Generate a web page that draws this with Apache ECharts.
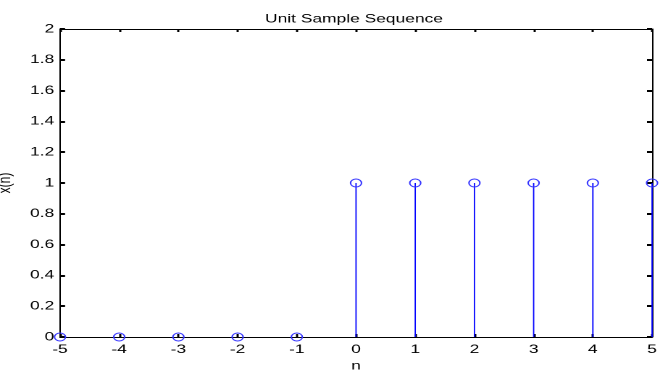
<!DOCTYPE html>
<html><head><meta charset="utf-8">
<script src="https://cdn.jsdelivr.net/npm/echarts@6/dist/echarts.min.js"></script>
<style>
html,body{margin:0;padding:0;background:#fff;overflow:hidden}
#wrap{width:668px;height:370px;overflow:hidden;position:relative}
#c{width:461px;height:370px;transform:scaleX(1.449);transform-origin:0 0}
</style>
</head><body><div id="wrap"><div id="c"></div></div>
<script>
const nValues = [-5, -4, -3, -2, -1, 0, 1, 2, 3, 4, 5];
const xValues = [0, 0, 0, 0, 0, 1, 1, 1, 1, 1, 1];
const titleText = 'Unit Sample Sequence';
const xName = 'n';
const yName = 'x(n)';

const pts = nValues.map((n, i) => [n, xValues[i]]);
const font = 'Liberation Sans, Arial, sans-serif';
function ax(len, w) {
  return {
    axisLine: { show: true, onZero: false, lineStyle: { color: '#000', width: 1 } },
    axisTick: { show: true, inside: true, length: len, lineStyle: { color: '#000', width: w } },
    splitLine: { show: false }
  };
}
const chart = echarts.init(document.getElementById('c'), null, { renderer: 'canvas', devicePixelRatio: 2 });
chart.setOption({
  backgroundColor: '#fff',
  animation: false,
  title: { text: titleText, left: 239.3, top: 8, textAlign: 'center',
    textStyle: { fontFamily: font, fontSize: 12, fontWeight: 'normal', color: '#000' } },
  grid: { left: 41.4, right: 11, top: 29, bottom: 33, outerBoundsMode: 'none', containLabel: false },
  xAxis: [
    Object.assign({ type: 'value', min: -5, max: 5, interval: 1, position: 'bottom',
      name: xName, nameLocation: 'middle', nameGap: 15,
      nameTextStyle: { fontFamily: font, fontSize: 12, color: '#000' },
      axisLabel: { fontFamily: font, fontSize: 12, color: '#000', margin: 6.5 } }, ax(3, 1.5)),
    Object.assign({ type: 'value', min: -5, max: 5, interval: 1, position: 'top',
      axisLabel: { show: false } }, ax(3, 1.5))
  ],
  yAxis: [
    Object.assign({ type: 'value', min: 0, max: 2, interval: 0.2, position: 'left',
      name: yName, nameLocation: 'middle', nameGap: 26, nameRotate: 90,
      nameTextStyle: { fontFamily: font, fontSize: 12, color: '#000' },
      axisLabel: { fontFamily: font, fontSize: 12, color: '#000', margin: 4,
        formatter: v => String(Math.round(v * 10) / 10) } }, ax(3.5, 2)),
    Object.assign({ type: 'value', min: 0, max: 2, interval: 0.2, position: 'right',
      axisLabel: { show: false } }, ax(3.5, 2))
  ],
  series: [{
    type: 'custom',
    xAxisIndex: 0, yAxisIndex: 0,
    data: pts,
    clip: false,
    z: 5,
    renderItem: function (params, api) {
      const base = api.coord([api.value(0), 0]);
      const top = api.coord([api.value(0), api.value(1)]);
      return {
        type: 'group',
        children: [
          { type: 'line', shape: { x1: base[0], y1: base[1], x2: top[0], y2: top[1] },
            style: { stroke: '#0000ff', lineWidth: 0.9 } },
          { type: 'ellipse', shape: { cx: top[0], cy: top[1], rx: 3.8, ry: 4 },
            style: { fill: null, stroke: '#3333ff', lineWidth: 1 } }
        ]
      };
    }
  }]
});
</script></body></html>
